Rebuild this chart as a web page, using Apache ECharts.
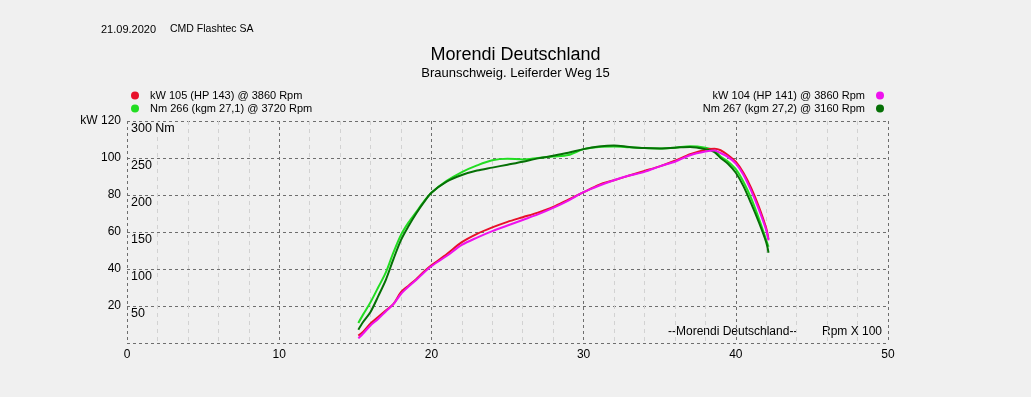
<!DOCTYPE html>
<html>
<head>
<meta charset="utf-8">
<script src="https://cdn.jsdelivr.net/npm/echarts@6/dist/echarts.min.js"></script>
<style>
  html, body { margin: 0; padding: 0; background: #f0f0f0; }
  #chart { width: 1031px; height: 397px; }
</style>
</head>
<body>
<div id="chart"></div>
<script>
// rpm x 100
var rpm = [15.2, 15.5, 16, 16.5, 17, 17.5, 18, 18.5, 19, 19.5, 20, 21, 22, 23, 24, 25, 26, 27, 28, 29, 30,
  31, 32, 33, 34, 35, 36, 37, 38, 38.6, 39, 39.5, 40, 40.5, 41, 41.5, 42, 42.15];

// run 1 (red / light green)
var kwRun1 = [4, 6, 10.5, 14, 17.5, 21, 27.5, 31, 34.5, 38.5, 42, 48, 54.5, 59, 62.5, 65.5, 68, 70.5, 73.5, 77.5, 81.5,
  85.5, 88, 90.5, 93, 95.5, 98.5, 102, 104.5, 105, 104.2, 101.5, 98, 92, 84, 74, 62, 56];
var nmRun1 = [27, 38, 55, 75, 95, 122, 146, 163, 177, 191, 203, 219, 231, 240, 247, 249, 248, 250, 252, 254, 262,
  265, 265.5, 264.5, 263.5, 263, 264, 266, 264, 260, 252, 245, 235, 218, 196, 169, 139, 130];

// run 2 (magenta / dark green)
var kwRun2 = [2.5, 5, 9.5, 13, 17, 21, 26.5, 30.5, 34, 38, 41.5, 47, 53, 57, 60.5, 63.5, 66.5, 69.5, 73, 77, 81.5,
  85, 88, 90.5, 92.5, 95.5, 98, 101.5, 103.5, 104, 102.7, 100.5, 97, 91, 82.5, 72.5, 61, 55.5];
var nmRun2 = [18, 28, 42, 63, 85, 113, 139, 158, 175, 190, 203, 218, 227, 233, 237, 241, 245, 249.5, 253, 257, 262,
  265.5, 267, 265, 263.5, 263, 264, 265, 262, 258, 250, 242, 230, 212, 189, 164, 136, 122];

var legendNames = [
  'kW 105 (HP 143) @ 3860 Rpm',
  'Nm 266 (kgm 27,1) @ 3720 Rpm',
  'kW 104 (HP 141) @ 3860 Rpm',
  'Nm 267 (kgm 27,2) @ 3160 Rpm'
];
var colors = ['#e8102a', '#22dd22', '#ee11ee', '#067006'];

function pairs(xs, ys) {
  var out = [];
  for (var i = 0; i < xs.length; i++) out.push([xs[i], ys[i]]);
  return out;
}

var font = 'Liberation Sans, Arial, sans-serif';
var chart = echarts.init(document.getElementById('chart'));

var legendBase = {
  orient: 'vertical',
  top: 87,
  icon: 'circle',
  itemWidth: 20,
  itemHeight: 8,
  itemGap: 0,
  padding: [2, 5, 2, 5],
  textStyle: { fontSize: 11, color: '#000', fontFamily: font, lineHeight: 13 }
};

var option = {
  backgroundColor: '#f0f0f0',
  animation: false,
  textStyle: { fontFamily: font },
  title: {
    text: 'Morendi Deutschland',
    subtext: 'Braunschweig. Leiferder Weg 15',
    left: 'center',
    top: 41,
    itemGap: 3,
    textStyle: { fontSize: 18, fontWeight: 'normal', color: '#000', fontFamily: font },
    subtextStyle: { fontSize: 13, color: '#000', fontFamily: font }
  },
  legend: [
    Object.assign({}, legendBase, { data: [legendNames[0], legendNames[1]], left: 126 }),
    Object.assign({}, legendBase, { data: [legendNames[2], legendNames[3]], right: 142, align: 'right' })
  ],
  grid: { left: 127, right: 143, top: 121, bottom: 54 },
  xAxis: {
    type: 'value',
    min: 0,
    max: 50,
    interval: 10,
    axisLine: { show: false },
    axisTick: { show: false },
    axisLabel: { color: '#000', fontSize: 12, margin: 6 },
    splitLine: { show: true, showMinLine: true, showMaxLine: true,
      lineStyle: { color: '#6e6e6e', type: [3, 3], width: 1 } },
    minorTick: { show: false, splitNumber: 5 },
    minorSplitLine: { show: true, lineStyle: { color: '#d2d2d2', type: [4, 4], width: 1 } }
  },
  yAxis: [{
    type: 'value',
    min: 0,
    max: 120,
    interval: 20,
    axisLine: { show: false },
    axisTick: { show: false },
    axisLabel: {
      color: '#000', fontSize: 12, margin: 6,
      formatter: function (v) { return v === 0 ? '' : (v === 120 ? 'kW 120' : String(v)); }
    },
    splitLine: { show: true, showMinLine: true, showMaxLine: true,
      lineStyle: { color: '#6e6e6e', type: [3, 3], width: 1 } }
  }, {
    type: 'value',
    position: 'left',
    min: 0,
    max: 300,
    interval: 50,
    axisLine: { show: false },
    axisTick: { show: false },
    splitLine: { show: false },
    axisLabel: {
      inside: true,
      color: '#000', fontSize: 12.5, margin: 4,
      verticalAlign: 'top',
      padding: [1, 0, 0, 0],
      formatter: function (v) { return v === 0 ? '' : (v === 300 ? '300 Nm' : String(v)); }
    }
  }],
  series: [{
    name: legendNames[1], type: 'line', yAxisIndex: 1, data: pairs(rpm, nmRun1),
    showSymbol: false, smooth: 0.3, color: colors[1], lineStyle: { width: 2 }, z: 2
  }, {
    name: legendNames[3], type: 'line', yAxisIndex: 1, data: pairs(rpm, nmRun2),
    showSymbol: false, smooth: 0.3, color: colors[3], lineStyle: { width: 2 }, z: 3
  }, {
    name: legendNames[0], type: 'line', yAxisIndex: 0, data: pairs(rpm, kwRun1),
    showSymbol: false, smooth: 0.3, color: colors[0], lineStyle: { width: 2 }, z: 2
  }, {
    name: legendNames[2], type: 'line', yAxisIndex: 0, data: pairs(rpm, kwRun2),
    showSymbol: false, smooth: 0.3, color: colors[2], lineStyle: { width: 2 }, z: 3
  }],
  graphic: [{
    type: 'text', left: 101, top: 24,
    style: { text: '21.09.2020', fontSize: 11, fill: '#000', fontFamily: font }
  }, {
    type: 'text', left: 170, top: 24,
    style: { text: 'CMD Flashtec SA', fontSize: 10.5, fill: '#000', fontFamily: font }
  }, {
    type: 'text', left: 668, top: 326,
    style: { text: '--Morendi Deutschland--', fontSize: 12, fill: '#000', fontFamily: font }
  }, {
    type: 'text', left: 822, top: 326,
    style: { text: 'Rpm X 100', fontSize: 12, fill: '#000', fontFamily: font }
  }]
};

chart.setOption(option);
</script>
</body>
</html>
